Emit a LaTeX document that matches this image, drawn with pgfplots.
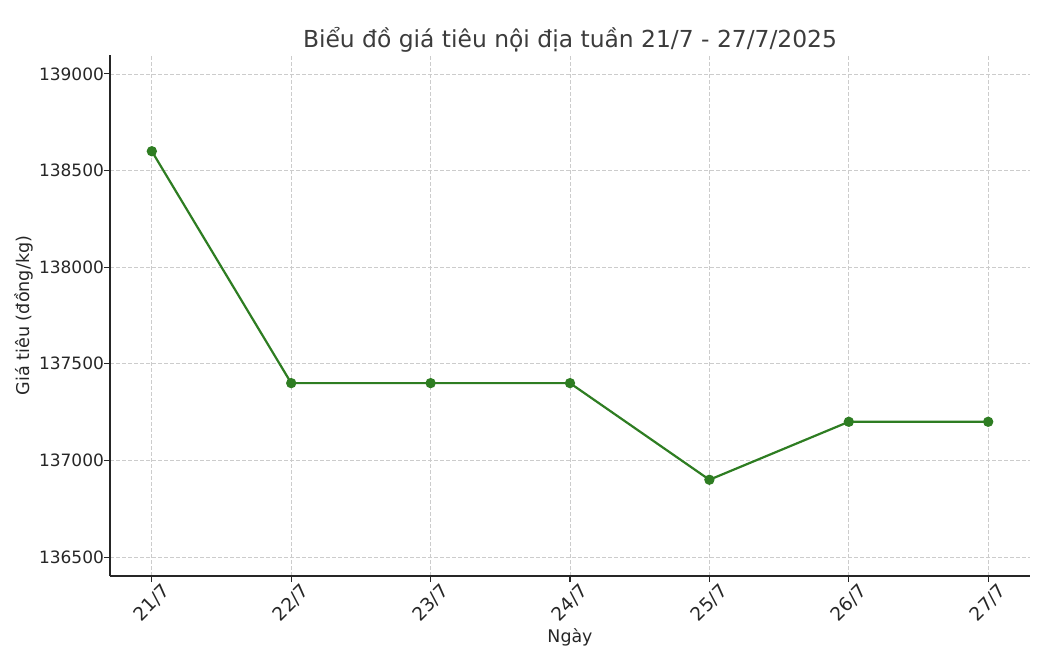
\documentclass[border=0pt]{standalone}
\usepackage{pgfplots}
\pgfplotsset{compat=1.18}
\usepackage{fontspec}
\setmainfont{DejaVu Sans}
\definecolor{lg}{RGB}{46,125,34}
\definecolor{tc}{RGB}{38,38,38}
\begin{document}
\begin{tikzpicture}
\begin{axis}[
  scale only axis,
  width=460pt, height=260.5pt,
  xmin=-0.3, xmax=6.3,
  ymin=136402, ymax=139098,
  xtick={0,...,6},
  xticklabels={21/7,22/7,23/7,24/7,25/7,26/7,27/7},
  ytick={136500,137000,137500,138000,138500,139000},
  scaled y ticks=false,
  /pgf/number format/assume math mode=true,
  /pgf/number format/fixed,
  /pgf/number format/set thousands separator={},
  yticklabel style={font=\fontsize{8.5}{10}\selectfont, text=tc, xshift=3.5pt},
  xticklabel style={font=\fontsize{9.3}{11}\selectfont, text=tc, yshift=-10.5pt, rotate=45, anchor=center},
  axis x line*=bottom, axis y line*=left,
  axis line style={line width=0.65pt, color=tc, -},
  tick align=outside, tick pos=left,
  major tick length=3pt,
  every tick/.style={line width=0.55pt, color=tc},
  grid=major,
  grid style={dash pattern=on 2pt off 1pt, line width=0.4pt, color=black!20},
  title={Biểu đồ giá tiêu nội địa tuần 21/7 - 27/7/2025},
  title style={font=\fontsize{11.7}{14}\selectfont, text=tc!90, at={([yshift=-2.5pt]axis description cs:0.5,1)}, anchor=base},
  xlabel={Ngày},
  xlabel style={font=\fontsize{8.7}{10}\selectfont, text=tc, at={([yshift=-30.5pt]axis description cs:0.5,0)}, anchor=center},
  ylabel={Giá tiêu (đồng/kg)},
  ylabel style={font=\fontsize{8.8}{10}\selectfont, text=tc, at={([xshift=-43pt]axis description cs:0,0.5)}, anchor=center},
]
\addplot[color=lg, line width=1.1pt, mark=*, mark size=2pt, mark options={fill=lg, draw=lg}]
  coordinates {(0,138600) (1,137400) (2,137400) (3,137400) (4,136900) (5,137200) (6,137200)};
\end{axis}
\useasboundingbox ([xshift=-55pt,yshift=-40pt]current axis.south west) rectangle ([xshift=7pt,yshift=27.5pt]current axis.north east);
\end{tikzpicture}
\end{document}
